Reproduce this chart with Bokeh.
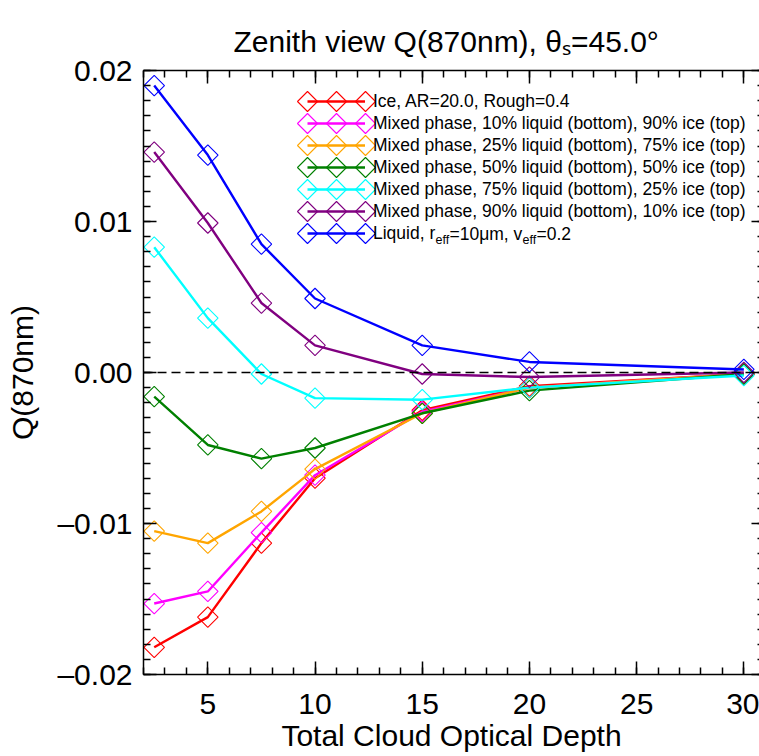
import numpy as np
from bokeh.plotting import figure
from bokeh.models import (Range1d, FixedTicker, LinearAxis, Span, Legend,
                          LegendItem, Label, CustomJSTickFormatter, Title,
                          PolyAnnotation)
from bokeh.embed import file_html
from bokeh.resources import INLINE

FONT = "Liberation Sans"

# ---------------- data ----------------
tau = [2.5, 5, 7.5, 10, 15, 20, 30]
q_ice = [-0.0182, -0.0162, -0.0113, -0.0070, -0.0025, -0.0009, -0.0001]
q_mix10 = [-0.0153, -0.0145, -0.0106, -0.0068, -0.0026, -0.0010, -0.0001]
q_mix25 = [-0.0105, -0.0113, -0.0092, -0.0064, -0.0027, -0.0010, -0.0001]
q_mix50 = [-0.0016, -0.0048, -0.0057, -0.0050, -0.0027, -0.0012, -0.0001]
q_mix75 = [0.0083, 0.0036, -0.0001, -0.0017, -0.0018, -0.0010, -0.0002]
q_mix90 = [0.0146, 0.0099, 0.0046, 0.0018, -0.0001, -0.0003, 0.0000]
q_liq = [0.0190, 0.0144, 0.0085, 0.0049, 0.0018, 0.0007, 0.0002]

series_values = [q_ice, q_mix10, q_mix25, q_mix50, q_mix75, q_mix90, q_liq]
series_labels = [
    "Ice, AR=20.0, Rough=0.4",
    "Mixed phase, 10% liquid (bottom), 90% ice (top)",
    "Mixed phase, 25% liquid (bottom), 75% ice (top)",
    "Mixed phase, 50% liquid (bottom), 50% ice (top)",
    "Mixed phase, 75% liquid (bottom), 25% ice (top)",
    "Mixed phase, 90% liquid (bottom), 10% ice (top)",
    "Liquid, r",
]
series_colors = ["#ff0000", "#ff00ff", "#ffa500", "#008000", "#00ffff", "#800080", "#0000ff"]

x_major = [5, 10, 15, 20, 25, 30]
x_minor = list(range(2, 32))
y_major = [-0.02, -0.01, 0.0, 0.01, 0.02]
y_tick_labels = ["\u20130.02", "\u20130.01", "0.00", "0.01", "0.02"]
y_minor = [round(-0.02 + 0.001 * i, 3) for i in range(41)]

# ---------------- figure ----------------
p = figure(width=759, height=756,
           x_range=Range1d(2, 30.73), y_range=Range1d(-0.02, 0.02),
           output_backend="svg", toolbar_location=None,
           min_border_left=143, min_border_right=0,
           min_border_top=70, min_border_bottom=82)
p.xgrid.visible = False
p.ygrid.visible = False
p.outline_line_color = None
p.background_fill_color = "white"
p.border_fill_color = "white"

p.title = Title(text="Zenith view Q(870nm), \u03b8\u209b=45.0\u00b0",
                text_font=FONT, text_font_size="30px", text_font_style="normal",
                text_color="black", align="left", offset=90, standoff=25)

xt = FixedTicker(ticks=x_major, minor_ticks=x_minor)
yt = FixedTicker(ticks=y_major, minor_ticks=y_minor)


def style_axis(ax, mj=13, mn=7):
    ax.major_tick_in = mj
    ax.major_tick_out = 0
    ax.minor_tick_in = mn
    ax.minor_tick_out = 0
    ax.axis_line_color = "black"
    ax.axis_line_width = 1.5
    ax.major_tick_line_color = "black"
    ax.minor_tick_line_color = "black"
    ax.major_tick_line_width = 1.5
    ax.minor_tick_line_width = 1.5


def hide_labels(ax):
    ax.major_label_text_color = None
    ax.major_label_text_font_size = "0px"
    ax.major_label_standoff = 0


xa = p.xaxis[0]
xa.ticker = xt
style_axis(xa)
xa.major_label_text_font = FONT
xa.major_label_text_font_size = "30px"
xa.major_label_text_color = "black"
xa.major_label_standoff = 19
xa.axis_label = "Total Cloud Optical Depth"
xa.axis_label_text_font = FONT
xa.axis_label_text_font_size = "30px"
xa.axis_label_text_font_style = "normal"
xa.axis_label_text_color = "black"
xa.axis_label_standoff = 2

ya = p.yaxis[0]
ya.ticker = yt
style_axis(ya)
ya.formatter = CustomJSTickFormatter(
    args=dict(tvals=y_major, tlabels=y_tick_labels),
    code="const i = tvals.findIndex(t => Math.abs(t - tick) < 1e-9); return i >= 0 ? tlabels[i] : '';")
ya.major_label_text_font = FONT
ya.major_label_text_font_size = "30px"
ya.major_label_text_color = "black"
ya.major_label_standoff = 11
ya.axis_label = "Q(870nm)"
ya.axis_label_text_font = FONT
ya.axis_label_text_font_size = "30px"
ya.axis_label_text_font_style = "normal"
ya.axis_label_text_color = "black"
ya.axis_label_standoff = 15

top = LinearAxis(ticker=xt)
style_axis(top)
hide_labels(top)
p.add_layout(top, "above")

right = LinearAxis(ticker=yt)
style_axis(right, mj=8, mn=2)
right.axis_line_color = None
hide_labels(right)
p.add_layout(right, "right")

# zero line
p.add_layout(Span(location=0, dimension="width", line_color="black",
                  line_dash="9 5", line_width=1.3))

# series
items = []
for vals, lab, col in zip(series_values, series_labels, series_colors):
    lr = p.line(tau, vals, line_color=col, line_width=2.4)
    p.scatter(tau, vals, marker="square", angle=np.pi / 4, size=14.5,
              fill_color=None, line_color=col, line_width=1.1)
    items.append(LegendItem(label=lab, renderers=[lr]))

# legend layout (pixels, relative to the plot frame)
LEG_X, LEG_BOTTOM, ROW_H, N = 164, 430, 22, len(series_labels)
GLYPH_W, STANDOFF = 58, 8
legend = Legend(items=items, location=(LEG_X, LEG_BOTTOM), orientation="vertical",
                glyph_width=GLYPH_W, glyph_height=ROW_H, label_height=ROW_H, spacing=0,
                padding=0, margin=0, label_standoff=STANDOFF,
                border_line_color=None, background_fill_alpha=0,
                label_text_font=FONT, label_text_font_size="17.5px",
                label_text_color="black")
p.add_layout(legend)

# three open diamonds on each legend key, as in the original
HALF = 10
for i, col in enumerate(series_colors):
    cy = LEG_BOTTOM + ROW_H * (N - i) - ROW_H / 2
    for cx in (LEG_X, LEG_X + GLYPH_W / 2, LEG_X + GLYPH_W):
        p.add_layout(PolyAnnotation(xs=[cx - HALF, cx, cx + HALF, cx],
                                    ys=[cy, cy + HALF, cy, cy - HALF],
                                    xs_units="screen", ys_units="screen",
                                    fill_color=None, fill_alpha=0,
                                    line_color=col, line_width=1.1, line_alpha=1))


def lbl(x, y, text, size, baseline="middle", align="left"):
    p.add_layout(Label(x=x, y=y, x_units="screen", y_units="screen", text=text,
                       text_font=FONT, text_font_size=size, text_color="black",
                       text_baseline=baseline, text_align=align))


# subscripts for the liquid legend entry
lx = LEG_X + GLYPH_W + STANDOFF
ly = LEG_BOTTOM + ROW_H / 2
lbl(lx + 62, ly - 6, "eff", "12.5px")
lbl(lx + 76, ly, "=10\u03bcm, v", "17.5px")
lbl(lx + 149, ly - 6, "eff", "12.5px")
lbl(lx + 163, ly, "=0.2", "17.5px")

open("out.html", "w").write(file_html(p, INLINE))
